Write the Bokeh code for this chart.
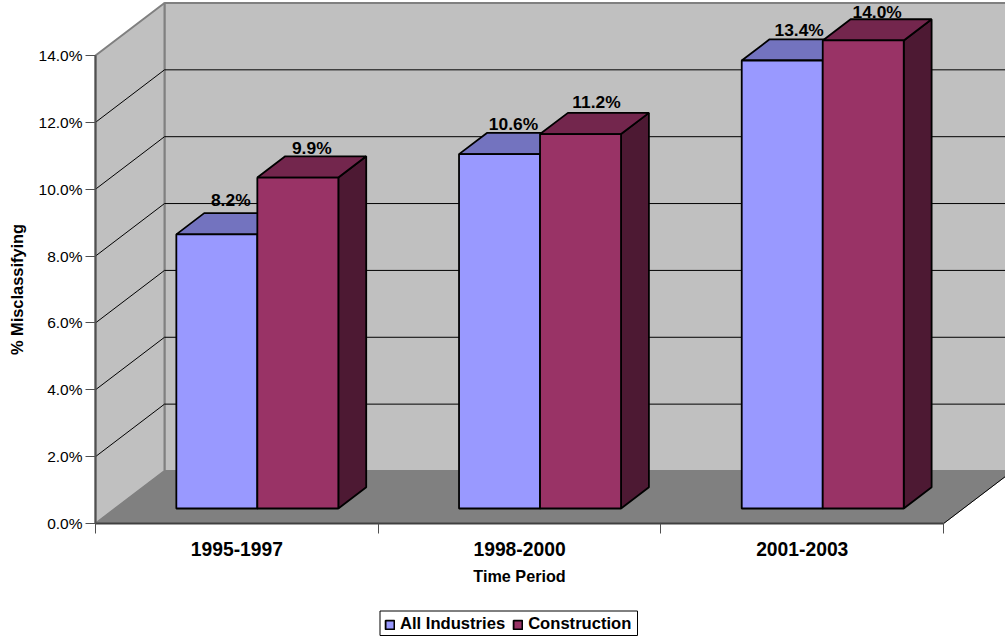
from math import pi
from bokeh.embed import file_html
from bokeh.resources import INLINE
from bokeh.plotting import figure
from bokeh.models import FixedTicker, Label, Legend, LegendItem, ColumnDataSource
from bokeh.core.properties import value

periods = ["1995-1997", "1998-2000", "2001-2003"]
series_names = ["All Industries", "Construction"]
all_industries = [8.2, 10.6, 13.4]
construction = [9.9, 11.2, 14.0]
y_ticks = [0, 2, 4, 6, 8, 10, 12, 14]
y_tick_labels = ["0.0%", "2.0%", "4.0%", "6.0%", "8.0%", "10.0%", "12.0%", "14.0%"]
x_title = "Time Period"
y_title = "% Misclassifying"

# layout constants (pixels)
W, H = 1005, 638
LEFT, BOTTOM_Y = 95, 523
PX_PER_CAT, PX_PER_PCT = 282.7, 33.43
DEPTH_X, DEPTH_Y = 69, 52.5
FONT = "Liberation Sans"

cat_dx = DEPTH_X / PX_PER_CAT
pct_dy = DEPTH_Y / PX_PER_PCT
bar_w = 81 / PX_PER_CAT
gap = 61.1 / PX_PER_CAT
front_d, back_d = 0.286, 0.69
n_cat = len(periods)
top_val = y_ticks[-1]

def pt(x, y, d=0.0):
    return x + cat_dx * d, y + pct_dy * d

def poly(points):
    xs, ys = zip(*[pt(*q) for q in points])
    return list(xs), list(ys)

p = figure(width=W, height=H, output_backend="svg", toolbar_location=None,
           x_range=(-LEFT / PX_PER_CAT, (W - LEFT) / PX_PER_CAT),
           y_range=(-(H - BOTTOM_Y) / PX_PER_PCT, BOTTOM_Y / PX_PER_PCT),
           min_border_left=0, min_border_right=0, min_border_top=0,
           min_border_bottom=0, outline_line_color=None,
           background_fill_color="white")
p.grid.visible = False

WALL, FLOOR, EDGE = "#C0C0C0", "#808080", "#808080"
# back wall, side wall, floor
xs, ys = poly([(0, 0, 1), (n_cat, 0, 1), (n_cat, top_val, 1), (0, top_val, 1)])
p.patch(xs, ys, fill_color=WALL, line_color=EDGE, line_width=2)
xs, ys = poly([(0, 0, 0), (0, 0, 1), (0, top_val, 1), (0, top_val, 0)])
p.patch(xs, ys, fill_color=WALL, line_color=EDGE, line_width=2)
xs, ys = poly([(0, 0, 0), (n_cat, 0, 0), (n_cat, 0, 1), (0, 0, 1)])
p.patch(xs, ys, fill_color=FLOOR, line_color=FLOOR, line_width=1)

# gridlines
for t in y_ticks[1:-1]:
    xs, ys = poly([(0, t, 0), (0, t, 1), (n_cat, t, 1)])
    p.line(xs, ys, line_color="black", line_width=1)
# floor right edge
xs, ys = poly([(n_cat, 0, 0), (n_cat, 0, 1)])
p.line(xs, ys, line_color="black", line_width=1)

FACE = {
    0: ("#9999FF", "#7373BF", "#4D4D80"),
    1: ("#993366", "#73264D", "#4D1933"),
}
BAR_EDGE = 1.8
legend_items = []
for s, vals in enumerate([all_industries, construction]):
    front_c, top_c, side_c = FACE[s]
    lefts, rights = [], []
    for i, v in enumerate(vals):
        x0 = i + gap + s * bar_w
        x1 = x0 + bar_w
        lefts.append(x0 + cat_dx * front_d)
        rights.append(x1 + cat_dx * front_d)
        xs, ys = poly([(x1, 0, front_d), (x1, 0, back_d), (x1, v, back_d), (x1, v, front_d)])
        p.patch(xs, ys, fill_color=side_c, line_color="black", line_width=BAR_EDGE)
        xs, ys = poly([(x0, v, front_d), (x1, v, front_d), (x1, v, back_d), (x0, v, back_d)])
        p.patch(xs, ys, fill_color=top_c, line_color="black", line_width=BAR_EDGE)
    src = ColumnDataSource(dict(left=lefts, right=rights,
                                bottom=[pct_dy * front_d] * len(vals),
                                top=[v + pct_dy * front_d for v in vals]))
    r = p.quad(left="left", right="right", bottom="bottom", top="top", source=src,
               fill_color=front_c, line_color="black", line_width=BAR_EDGE)
    legend_items.append(LegendItem(label=series_names[s], renderers=[r]))

# value labels, sitting above the back edge of each bar top
label_gap_px = [[13, 9, 9], [8, 11, 7]]
label_dx_px = [[0, 0, 3], [0, 2, 0]]
for s, vals in enumerate([all_industries, construction]):
    lx, ly, lt, off, offx = [], [], [], [], []
    for i, v in enumerate(vals):
        xc = i + gap + (s + 0.5) * bar_w
        x_, y_ = pt(xc, v, (front_d + back_d) / 2)
        lx.append(x_)
        ly.append(pt(xc, v, back_d)[1])
        lt.append(f"{v:.1f}%")
        off.append(-label_gap_px[s][i])
        offx.append(label_dx_px[s][i])
    src = ColumnDataSource(dict(x=lx, y=ly, t=lt, off=off, offx=offx))
    p.text("x", "y", text="t", x_offset="offx", y_offset="off", source=src, text_align="center",
           text_baseline="middle", text_color="black",
           text_font=value(FONT), text_font_style="bold", text_font_size="17.4px")

# axes, pinned to the front edge of the 3-D box
yax = p.yaxis[0]
yax.fixed_location = 0
yax.ticker = FixedTicker(ticks=y_ticks)
yax.major_label_overrides = {t: l for t, l in zip(y_ticks, y_tick_labels)}
yax.bounds = (0, top_val)
yax.axis_line_color = "#505050"
yax.axis_line_width = 2
yax.major_tick_line_color = "#505050"
yax.major_tick_in = 0
yax.major_tick_out = 10
yax.minor_tick_line_color = None
yax.major_label_standoff = 3
yax.major_label_text_font = FONT
yax.major_label_text_font_size = "15.5px"
yax.major_label_text_color = "black"

xax = p.xaxis[0]
xax.fixed_location = 0
xax.ticker = FixedTicker(ticks=[i + 0.5 for i in range(n_cat)], minor_ticks=list(range(n_cat + 1)))
xax.major_label_overrides = {i + 0.5: l for i, l in enumerate(periods)}
xax.bounds = (0, n_cat)
xax.axis_line_color = "#404040"
xax.axis_line_width = 2
xax.major_tick_line_color = None
xax.major_tick_in = 0
xax.major_tick_out = 0
xax.minor_tick_line_color = "#505050"
xax.minor_tick_in = 0
xax.minor_tick_out = 10
xax.major_label_standoff = 8
xax.major_label_text_font = FONT
xax.major_label_text_font_style = "bold"
xax.major_label_text_font_size = "19.3px"
xax.major_label_text_color = "black"

# axis titles
p.add_layout(Label(x=n_cat / 2, y=-(575 - BOTTOM_Y) / PX_PER_PCT, text=x_title,
                   text_font=FONT, text_font_style="bold", text_font_size="16.2px",
                   text_align="center", text_baseline="middle", text_color="black"))
p.add_layout(Label(x=(16 - LEFT) / PX_PER_CAT, y=top_val / 2, text=y_title, angle=pi / 2,
                   text_font=FONT, text_font_style="bold", text_font_size="16.4px",
                   text_align="center", text_baseline="middle", text_color="black"))

# legend frame: tighter than Bokeh's own legend box can be for this font size
p.quad(left=[(379.5 - LEFT) / PX_PER_CAT], right=[(637 - LEFT) / PX_PER_CAT],
       top=[(BOTTOM_Y - 610.5) / PX_PER_PCT], bottom=[(BOTTOM_Y - 635) / PX_PER_PCT],
       fill_color="white", line_color="black", line_width=1)

legend = Legend(items=legend_items, orientation="horizontal",
                location=(384, 4),
                margin=0, padding=4, spacing=7, label_standoff=5,
                glyph_width=11, glyph_height=11, label_height=17, label_width=105,
                label_text_font=FONT, label_text_font_style="bold",
                label_text_font_size="16.6px", label_text_color="black",
                label_text_line_height=1.0,
                border_line_color=None,
                background_fill_color=None)
p.add_layout(legend, "center")

open("out.html", "w").write(file_html(p, INLINE))
